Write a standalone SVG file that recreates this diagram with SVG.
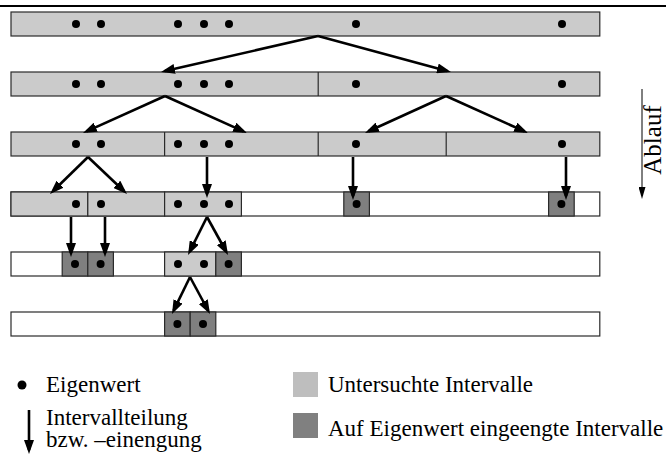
<svg xmlns="http://www.w3.org/2000/svg" width="666" height="456" viewBox="0 0 666 456">
  <defs>
    <style>
      .bar { fill: #ffffff; stroke: #2a2a2a; stroke-width: 1.2; }
      .lt { fill: #cbcbcb; stroke: #2a2a2a; stroke-width: 1.2; }
      .dk { fill: #7f7f7f; stroke: #2a2a2a; stroke-width: 1.2; }
      .div { stroke: #2a2a2a; stroke-width: 1.2; }
      .ev { fill: #000000; }
      .arr { stroke: #000000; stroke-width: 2.6; fill: none; marker-end: url(#head); }
      .lbl { font-family: "Liberation Serif", "Times New Roman", serif; font-size: 23px; fill: #000000; }
    </style>
    <marker id="head" markerUnits="userSpaceOnUse" markerWidth="14" markerHeight="10" viewBox="0 0 14 10" refX="10" refY="5" orient="auto">
      <path d="M0,0 L14,5 L0,10 z" fill="#000000"/>
    </marker>
    <marker id="headThin" markerUnits="userSpaceOnUse" markerWidth="12" markerHeight="7" viewBox="0 0 12 7" refX="1" refY="3.5" orient="auto">
      <path d="M0,0 L12,3.5 L0,7 z" fill="#000000"/>
    </marker>
  </defs>

  <!-- rule at the top -->
  <line x1="0" y1="6" x2="666" y2="6" stroke="#000000" stroke-width="2"/>

  <!-- step 1: whole interval -->
  <g id="row1">
    <rect class="lt" x="11" y="12" width="588.8" height="24"/>
    <circle class="ev" cx="76" cy="24" r="4"/>
    <circle class="ev" cx="101" cy="24" r="4"/>
    <circle class="ev" cx="178" cy="24" r="4"/>
    <circle class="ev" cx="204" cy="24" r="4"/>
    <circle class="ev" cx="229" cy="24" r="4"/>
    <circle class="ev" cx="356" cy="24" r="4"/>
    <circle class="ev" cx="562" cy="24" r="4"/>
  </g>

  <!-- step 2: halved -->
  <g id="row2">
    <rect class="lt" x="11" y="72" width="588.8" height="24"/>
    <line class="div" x1="318.2" y1="72" x2="318.2" y2="96"/>
    <circle class="ev" cx="76" cy="84" r="4"/>
    <circle class="ev" cx="101" cy="84" r="4"/>
    <circle class="ev" cx="178" cy="84" r="4"/>
    <circle class="ev" cx="204" cy="84" r="4"/>
    <circle class="ev" cx="229" cy="84" r="4"/>
    <circle class="ev" cx="356" cy="84" r="4"/>
    <circle class="ev" cx="562" cy="84" r="4"/>
  </g>

  <!-- step 3: quarters -->
  <g id="row3">
    <rect class="lt" x="11" y="132" width="588.8" height="24"/>
    <line class="div" x1="164.6" y1="132" x2="164.6" y2="156"/>
    <line class="div" x1="318.2" y1="132" x2="318.2" y2="156"/>
    <line class="div" x1="446.2" y1="132" x2="446.2" y2="156"/>
    <circle class="ev" cx="76" cy="144" r="4"/>
    <circle class="ev" cx="101" cy="144" r="4"/>
    <circle class="ev" cx="178" cy="144" r="4"/>
    <circle class="ev" cx="204" cy="144" r="4"/>
    <circle class="ev" cx="229" cy="144" r="4"/>
    <circle class="ev" cx="356" cy="144" r="4"/>
    <circle class="ev" cx="562" cy="144" r="4"/>
  </g>

  <!-- step 4 -->
  <g id="row4">
    <rect class="bar" x="11" y="192" width="588.8" height="24"/>
    <rect class="lt" x="11" y="192" width="76.8" height="24"/>
    <rect class="lt" x="87.8" y="192" width="76.8" height="24"/>
    <rect class="lt" x="164.6" y="192" width="76.8" height="24"/>
    <rect class="dk" x="343.8" y="192" width="25.6" height="24"/>
    <rect class="dk" x="548.6" y="192" width="25.6" height="24"/>
    <circle class="ev" cx="76" cy="204" r="4"/>
    <circle class="ev" cx="101" cy="204" r="4"/>
    <circle class="ev" cx="178" cy="204" r="4"/>
    <circle class="ev" cx="204" cy="204" r="4"/>
    <circle class="ev" cx="229" cy="204" r="4"/>
    <circle class="ev" cx="356.6" cy="204" r="4"/>
    <circle class="ev" cx="561.4" cy="204" r="4"/>
  </g>

  <!-- step 5 -->
  <g id="row5">
    <rect class="bar" x="11" y="252" width="588.8" height="24"/>
    <rect class="dk" x="62.2" y="252" width="25.6" height="24"/>
    <rect class="dk" x="87.8" y="252" width="25.6" height="24"/>
    <rect class="lt" x="164.6" y="252" width="51.2" height="24"/>
    <rect class="dk" x="215.8" y="252" width="25.6" height="24"/>
    <circle class="ev" cx="75" cy="264" r="4"/>
    <circle class="ev" cx="100.6" cy="264" r="4"/>
    <circle class="ev" cx="178" cy="264" r="4"/>
    <circle class="ev" cx="204" cy="264" r="4"/>
    <circle class="ev" cx="228.6" cy="264" r="4"/>
  </g>

  <!-- step 6 -->
  <g id="row6">
    <rect class="bar" x="11" y="312" width="588.8" height="24"/>
    <rect class="dk" x="164.6" y="312" width="25.6" height="24"/>
    <rect class="dk" x="190.2" y="312" width="25.6" height="24"/>
    <circle class="ev" cx="177.4" cy="324" r="4"/>
    <circle class="ev" cx="203" cy="324" r="4"/>
  </g>

  <!-- subdivision arrows -->
  <g id="connectors">
    <line class="arr" x1="318" y1="36" x2="164.9" y2="71.1"/>
    <line class="arr" x1="318" y1="36" x2="447.1" y2="71.0"/>
    <line class="arr" x1="165" y1="96" x2="86.6" y2="131.4"/>
    <line class="arr" x1="165" y1="96" x2="243.4" y2="131.4"/>
    <line class="arr" x1="446" y1="96" x2="368.6" y2="131.3"/>
    <line class="arr" x1="446" y1="96" x2="524.4" y2="131.4"/>
    <line class="arr" x1="88" y1="157" x2="52.9" y2="191.2"/>
    <line class="arr" x1="88" y1="157" x2="124.1" y2="191.2"/>
    <line class="arr" x1="207" y1="157" x2="207" y2="194"/>
    <line class="arr" x1="353" y1="157" x2="353" y2="196"/>
    <line class="arr" x1="566" y1="157" x2="566" y2="196"/>
    <line class="arr" x1="71" y1="217" x2="71" y2="253"/>
    <line class="arr" x1="105" y1="217" x2="105" y2="253"/>
    <line class="arr" x1="207" y1="217" x2="189.8" y2="251.4"/>
    <line class="arr" x1="207" y1="217" x2="226.1" y2="251.5"/>
    <line class="arr" x1="190" y1="277" x2="173.7" y2="310.4"/>
    <line class="arr" x1="190" y1="277" x2="208.1" y2="310.5"/>
  </g>

  <!-- time direction -->
  <g id="ablauf">
    <line x1="642" y1="89" x2="642" y2="188" stroke="#000000" stroke-width="1" marker-end="url(#headThin)"/>
    <text class="lbl" style="font-size:25px" transform="translate(661,140) rotate(-90)" text-anchor="middle">Ablauf</text>
  </g>

  <!-- legend -->
  <g id="legend-eigenwert">
    <circle class="ev" cx="22" cy="385" r="4.5"/>
    <text class="lbl" x="46" y="392">Eigenwert</text>
  </g>
  <g id="legend-teilung">
    <line class="arr" x1="29" y1="410" x2="29" y2="450"/>
    <text class="lbl" x="46" y="425">Intervallteilung</text>
    <text class="lbl" x="46" y="447">bzw. –einengung</text>
  </g>
  <g id="legend-untersucht">
    <rect x="293" y="372" width="25" height="25" fill="#bebebe"/>
    <text class="lbl" x="328" y="392">Untersuchte Intervalle</text>
  </g>
  <g id="legend-eingeengt">
    <rect x="293" y="413" width="25" height="25" fill="#808080"/>
    <text class="lbl" x="328" y="436">Auf Eigenwert eingeengte Intervalle</text>
  </g>
</svg>
